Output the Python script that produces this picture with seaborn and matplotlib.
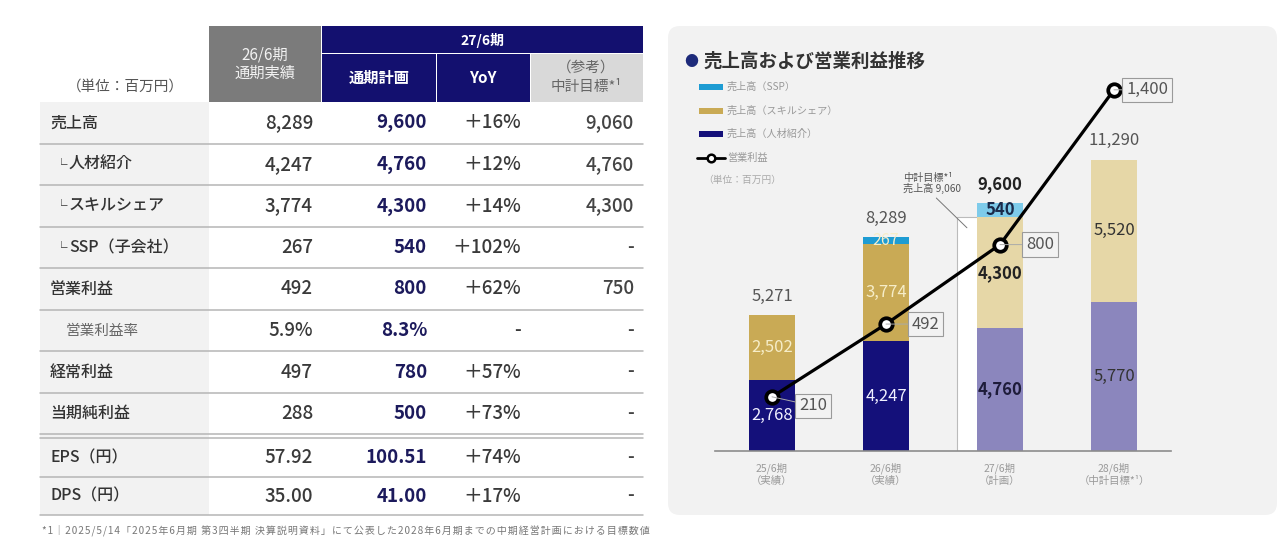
import numpy as np
import pandas as pd
import matplotlib
matplotlib.use("Agg")
import matplotlib.pyplot as plt
import seaborn as sns
from matplotlib.patches import Rectangle, FancyBboxPatch
from matplotlib.lines import Line2D
from matplotlib.transforms import Affine2D

# ---------------- data ----------------
periods = ["25/6期", "26/6期", "27/6期", "28/6期"]
period_notes = ["（実績）", "（実績）", "（計画）", "（中計目標*¹）"]
sales_jinzai = [2768, 4247, 4760, 5770]
sales_skill = [2502, 3774, 4300, 5520]
sales_ssp = [0, 267, 540, 0]
sales_total = [5271, 8289, 9600, 11290]
op_profit = [210, 492, 800, 1400]
target_27_sales = 9060

row_labels = ["売上高", "└ 人材紹介", "└ スキルシェア", "└ SSP（子会社）", "営業利益",
              "営業利益率", "経常利益", "当期純利益", "EPS（円）", "DPS（円）"]
actual_26 = ["8,289", "4,247", "3,774", "267", "492", "5.9%", "497", "288", "57.92", "35.00"]
plan_27 = ["9,600", "4,760", "4,300", "540", "800", "8.3%", "780", "500", "100.51", "41.00"]
yoy_27 = ["＋16%", "＋12%", "＋14%", "＋102%", "＋62%", "-", "＋57%", "＋73%", "＋74%", "＋17%"]
target_27 = ["9,060", "4,760", "4,300", "-", "750", "-", "-", "-", "-", "-"]
footnote = "*1｜2025/5/14「2025年6月期 第3四半期 決算説明資料」にて公表した2028年6月期までの中期経営計画における目標数値"

# ---------------- style ----------------
sns.set_theme(style="white")
plt.rcParams['font.family'] = ['Noto Sans CJK JP', 'DejaVu Sans']

W, H = 1280, 546
fig = plt.figure(figsize=(W / 100, H / 100), dpi=100)
fig.patch.set_facecolor('white')
T = Affine2D().scale(0.01, -0.01).translate(0, H / 100) + fig.dpi_scale_trans


def rect(x0, y0, x1, y1, color, z=1):
    fig.add_artist(Rectangle((x0, y0), x1 - x0, y1 - y0, transform=T,
                             facecolor=color, edgecolor='none', zorder=z))


def hline(x0, x1, y, color='#b5b5b5', lw=1.1):
    fig.add_artist(Line2D([x0, x1], [y, y], transform=T, color=color, lw=lw))


def txt(x, y, s, **kw):
    return fig.text(x, y, s, transform=T, **kw)


# ---------------- table ----------------
NAVY = '#13106f'
rect(209, 26, 321, 102, '#7b7b7b')
rect(322, 26, 643, 53, NAVY)
rect(322, 54, 436, 102, NAVY)
rect(437, 54, 530, 102, NAVY)
rect(531, 54, 643, 102, '#d9d9d9')
rect(40, 102, 209, 515, '#f2f2f2')

txt(265, 55, "26/6期", color='#f2f2f2', fontsize=11, ha='center', va='center')
txt(265, 73, "通期実績", color='#f2f2f2', fontsize=11, ha='center', va='center')
txt(482, 40, "27/6期", color='white', fontsize=10, weight='bold', ha='center', va='center')
txt(379, 78, "通期計画", color='white', fontsize=11, weight='bold', ha='center', va='center')
txt(483, 78, "YoY", color='white', fontsize=11, weight='bold', ha='center', va='center')
txt(586, 68, "（参考）", color='#666666', fontsize=10.5, ha='center', va='center')
txt(586, 87, "中計目標*¹", color='#666666', fontsize=10.5, ha='center', va='center')
txt(125, 87, "（単位：百万円）", color='#555555', fontsize=10.5, ha='center', va='center')

row_centers = [123, 164.5, 206, 247.5, 289, 330.5, 372, 413.5, 457.5, 496]
for yb in [144, 185, 227, 268, 310, 351, 393, 434, 438, 477, 515]:
    hline(40, 643, yb)

col_right = [313, 427, 521, 634]
col_colors = ['#3a3a3a', '#1c1a5c', '#3a3a3a', '#444444']
for i, lab in enumerate(row_labels):
    yc = row_centers[i]
    if lab == "営業利益率":
        txt(66, yc, lab, fontsize=10.5, color='#666666', va='center')
    elif lab.startswith("└"):
        txt(55, yc, "└", fontsize=9, color='#333333', va='center', weight='bold')
        txt(69, yc, lab[2:], fontsize=11.5, color='#333333', va='center', weight='medium')
    else:
        txt(50, yc, lab, fontsize=11.5, color='#333333', va='center', weight='medium')
    for j, col in enumerate([actual_26, plan_27, yoy_27, target_27]):
        txt(col_right[j], yc, col[i], fontsize=13.5, color=col_colors[j], ha='right', va='center',
            weight='bold' if j == 1 else 'medium')

txt(42, 531, "\u200a".join(footnote), fontsize=7.2, color='#777777', va='center')

# ---------------- chart panel ----------------
fig.add_artist(FancyBboxPatch((668, 26), 609, 489, boxstyle="round,pad=0,rounding_size=12",
                              transform=T, facecolor='#f2f2f2', edgecolor='none', zorder=-1))

txt(691, 62, "●", color='#1d2a7a', fontsize=10, ha='center', va='center')
txt(703, 61, "売上高および営業利益推移", fontsize=13.3, weight='bold', color='#333333', va='center')

leg_labels = ["売上高（SSP）", "売上高（スキルシェア）", "売上高（人材紹介）"]
leg_colors = ['#1e9cd3', '#c9aa55', '#14107a']
for k, (lab, c) in enumerate(zip(leg_labels, leg_colors)):
    yy = [87, 111, 134][k]
    rect(699, yy - 3, 723, yy + 3, c, z=3)
    txt(727, yy, lab, fontsize=7.3, color='#999999', va='center')
fig.add_artist(Line2D([697, 725], [158, 158], transform=T, color='black', lw=2))
fig.add_artist(Line2D([711], [158], transform=T, marker='o', ms=5.5, mfc='white', mec='black', mew=1.8, lw=0))
txt(727, 158, "営業利益", fontsize=7.3, color='#999999', va='center')
txt(703, 180, "（単位：百万円）", fontsize=7, color='#aaaaaa', va='center')

# ---------------- bars ----------------
jinzai_colors = ['#14107a', '#14107a', '#8b86bd', '#8b86bd']
skill_colors = ['#c9aa55', '#c9aa55', '#e6d7a7', '#e6d7a7']
ssp_colors = ['#1e9cd3', '#1e9cd3', '#7ecbea', '#7ecbea']

ax = fig.add_axes([715 / W, (H - 451) / H, 456 / W, 381 / H])
ax.patch.set_alpha(0)
YMAX = 381 / 0.0258

jz = np.array(sales_jinzai)
sk = np.array(sales_skill)
ss = np.array(sales_ssp)
layers = [(jz + sk + ss, ssp_colors), (jz + sk, skill_colors), (jz, jinzai_colors)]
for vals, cols in layers:
    sns.barplot(x=periods, y=vals, hue=periods, palette=cols, order=periods, hue_order=periods,
                width=0.4, saturation=1, legend=False, linewidth=0, ax=ax)

ax.bar(2 - 0.19, target_27_sales, width=0.38, color='white', edgecolor='#bbbbbb', lw=0.8, zorder=0.5)
ax.annotate("中計目標*¹\n売上高 9,060", xy=(2 - 0.19 - 0.1, target_27_sales * 0.955),
            xytext=(-64, 34), textcoords='offset pixels', ha='left', va='bottom',
            fontsize=7.3, color='#555555', linespacing=1.0,
            arrowprops=dict(arrowstyle='-', color='#777777', lw=0.7, relpos=(0.5, 0), shrinkA=1, shrinkB=0))

seg_text_colors = {
    'jz': ['#f0f0ff', '#f0f0ff', '#1e1c3a', '#333333'],
    'sk': ['#f6edc8', '#f6edc8', '#222222', '#333333'],
    'ss': ['#f6edc8', '#f6edc8', '#1a2a4a', '#333333'],
}
seg_weights = ['normal', 'normal', 'bold', 'normal']
for i in range(4):
    bottoms = [0, jz[i], jz[i] + sk[i]]
    for key, val, b in zip(['jz', 'sk', 'ss'], [jz[i], sk[i], ss[i]], bottoms):
        if val <= 0:
            continue
        ax.text(i, b + val / 2, f"{val:,}", ha='center', va='center',
                fontsize=12 if val > 300 else 11.5, color=seg_text_colors[key][i],
                weight=seg_weights[i], zorder=4)
    ax.annotate(f"{sales_total[i]:,}", xy=(i, sales_total[i]), xytext=(0, 19),
                textcoords='offset pixels', ha='center', va='center', fontsize=12,
                color='#222222' if i == 2 else '#555555', weight=seg_weights[i])

ax.set_ylim(0, YMAX)
ax.set_xticks(range(4))
ax.set_xticklabels([f"{p}\n{n}" for p, n in zip(periods, period_notes)], fontsize=7.5,
                   color='#9a9a9a', linespacing=1.25)
ax.tick_params(axis='x', length=0, pad=8)
ax.set_yticks([])
ax.set_xlabel('')
ax.set_ylabel('')
for s in ['top', 'left', 'right']:
    ax.spines[s].set_visible(False)
ax.spines['bottom'].set_color('#8c8c8c')
ax.spines['bottom'].set_linewidth(1.2)

# ---------------- operating profit line ----------------
ax2 = ax.twinx()
ax2.patch.set_alpha(0)
sns.lineplot(x=np.arange(4), y=op_profit, ax=ax2, color='black', linewidth=2.3, marker='o',
             markersize=9, markerfacecolor='white', markeredgecolor='black', markeredgewidth=2.7,
             zorder=5)
ax2.set_ylim(0, YMAX / 10)
ax2.set_yticks([])
ax2.set_ylabel('')
for s in ['top', 'left', 'right', 'bottom']:
    ax2.spines[s].set_visible(False)

label_offsets = [(27, -9), (26, 0), (26, 0), (12, 0)]
for i, v in enumerate(op_profit):
    ax2.annotate(f"{v:,}", xy=(i, v), xytext=label_offsets[i], textcoords='offset pixels',
                 ha='left', va='center', fontsize=12, color='#555555', zorder=6,
                 bbox=dict(boxstyle='square,pad=0.22', facecolor='#f2f2f2', edgecolor='#9a9a9a', lw=0.8),
                 arrowprops=dict(arrowstyle='-', color='#aaaaaa', lw=0.7, shrinkA=0, shrinkB=0))

ax.set_xlim(-0.5, 3.5)
ax2.set_xlim(-0.5, 3.5)

fig.savefig("out.png", dpi=100)
